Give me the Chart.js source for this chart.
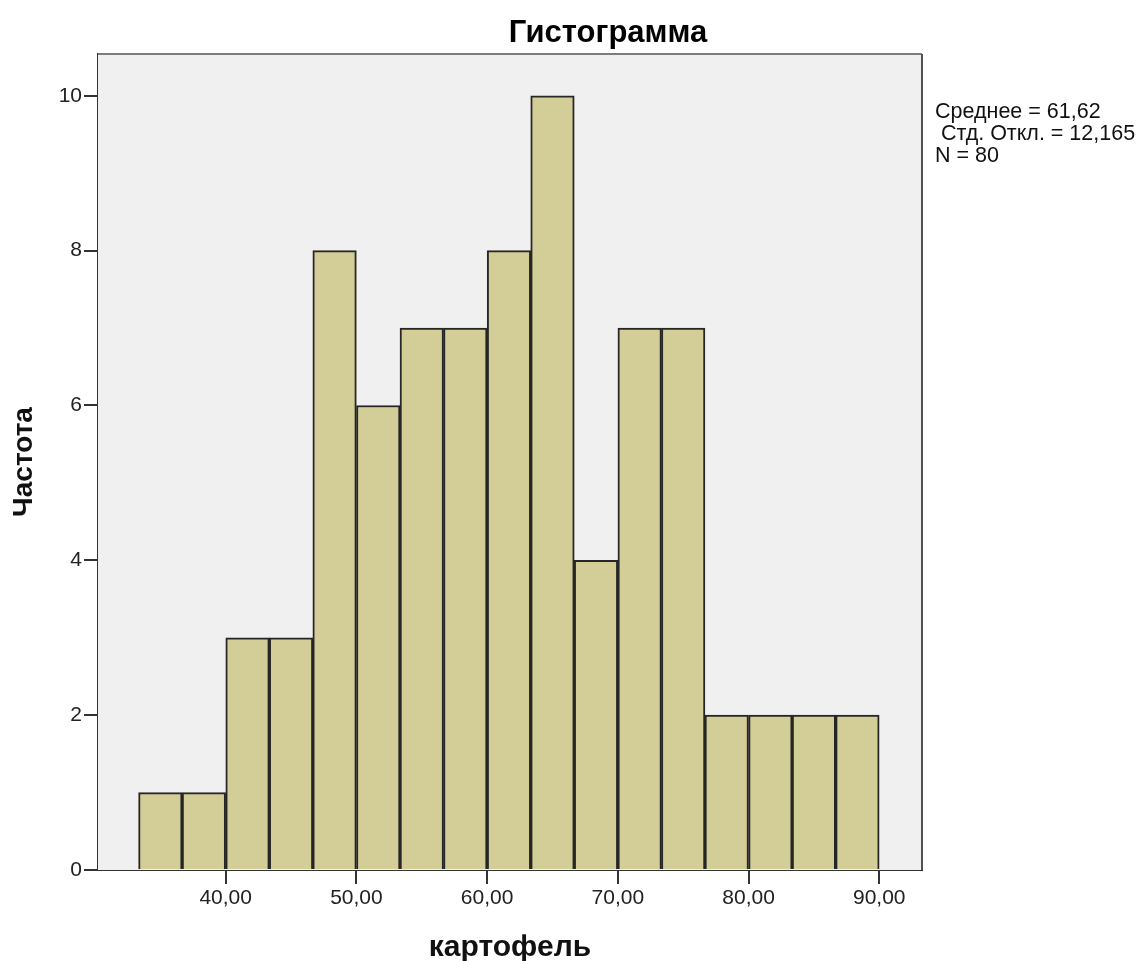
<!DOCTYPE html>
<html>
<head>
<meta charset="utf-8">
<script src="https://cdn.jsdelivr.net/npm/chart.js@4.4.0/dist/chart.umd.min.js"></script>
<style>
  body { margin: 0; background: #ffffff; }
  canvas { display: block; }
</style>
</head>
<body>
<canvas id="hist" width="1139" height="961"></canvas>
<script>
// histogram bins (centres of the bins, width 3,33)
const binCenters = [35.00, 38.33, 41.67, 45.00, 48.33, 51.67, 55.00, 58.33, 61.67,
                    65.00, 68.33, 71.67, 75.00, 78.33, 81.67, 85.00, 88.33];
const frequencies = [1, 1, 3, 3, 8, 6, 7, 7, 8, 10, 4, 7, 7, 2, 2, 2, 2];

const xTicks = [40, 50, 60, 70, 80, 90];
const yTicks = [0, 2, 4, 6, 8, 10];

const statsLines = ['Среднее = 61,62', ' Стд. Откл. = 12,165', 'N = 80'];

const FONT = "'Liberation Sans', Arial, sans-serif";

// grey plot background + frame, title and the stats text on the right
const spssFrame = {
  id: 'spssFrame',
  beforeDatasetsDraw(chart) {
    const { ctx, chartArea: a } = chart;
    ctx.save();
    ctx.fillStyle = '#f0f0f0';
    ctx.fillRect(a.left, a.top, a.right - a.left, a.bottom - a.top);
    ctx.restore();
  },
  afterDraw(chart) {
    const { ctx, chartArea: a } = chart;
    ctx.save();
    ctx.lineWidth = 2;
    ctx.strokeStyle = '#7c7c7c';
    ctx.beginPath();
    ctx.moveTo(a.left, a.top);
    ctx.lineTo(a.right, a.top);
    ctx.stroke();
    ctx.strokeStyle = '#505050';
    ctx.beginPath();
    ctx.moveTo(a.right, a.top);
    ctx.lineTo(a.right, a.bottom);
    ctx.stroke();

    ctx.fillStyle = '#000000';
    ctx.font = 'bold 31px ' + FONT;
    ctx.textAlign = 'center';
    ctx.textBaseline = 'alphabetic';
    ctx.fillText('Гистограмма', 608, 42);

    ctx.fillStyle = '#111111';
    ctx.font = '21.5px ' + FONT;
    ctx.textAlign = 'left';
    statsLines.forEach((line, i) => {
      ctx.fillText(line, 935, 118 + i * 22);
    });
    ctx.restore();
  }
};

new Chart(document.getElementById('hist'), {
  type: 'bar',
  data: {
    datasets: [{
      data: binCenters.map((c, i) => ({ x: c, y: frequencies[i] })),
      backgroundColor: '#d3ce97',
      borderColor: '#262626',
      borderWidth: 2,
      barPercentage: 1,
      categoryPercentage: 1,
    }],
  },
  options: {
    responsive: false,
    animation: false,
    layout: { padding: { top: 54, right: 217, left: 0, bottom: 0 } },
    plugins: {
      legend: { display: false },
      tooltip: { enabled: false },
    },
    scales: {
      x: {
        type: 'linear',
        min: 30.23,
        max: 93.27,
        offset: false,
        afterBuildTicks: (scale) => { scale.ticks = xTicks.map(v => ({ value: v })); },
        afterFit: (scale) => { scale.height = 91; },
        grid: { drawOnChartArea: false, drawTicks: true, tickLength: 14, color: '#333333', lineWidth: 2, offset: false },
        border: { display: true, color: '#333333', width: 2 },
        ticks: {
          autoSkip: false,
          maxRotation: 0,
          padding: 2,
          color: '#222222',
          font: { family: FONT, size: 21 },
          callback: (v) => Number(v).toFixed(2).replace('.', ','),
        },
        title: {
          display: true,
          text: 'картофель',
          color: '#111111',
          font: { family: FONT, size: 30, weight: 'bold', lineHeight: '26px' },
          padding: { top: 0, bottom: 0 },
        },
      },
      y: {
        min: 0,
        max: 10.54,
        afterBuildTicks: (scale) => { scale.ticks = yTicks.map(v => ({ value: v })); },
        afterFit: (scale) => { scale.width = 98; },
        grid: { drawOnChartArea: false, drawTicks: true, tickLength: 14, color: '#333333', lineWidth: 2 },
        border: { display: true, color: '#333333', width: 2 },
        ticks: {
          padding: 2,
          color: '#222222',
          font: { family: FONT, size: 21 },
        },
        title: {
          display: true,
          text: 'Частота',
          color: '#111111',
          font: { family: FONT, size: 28, weight: 'bold', lineHeight: '26px' },
          padding: { top: 11, bottom: 0 },
        },
      },
    },
  },
  plugins: [spssFrame],
});
</script>
</body>
</html>
